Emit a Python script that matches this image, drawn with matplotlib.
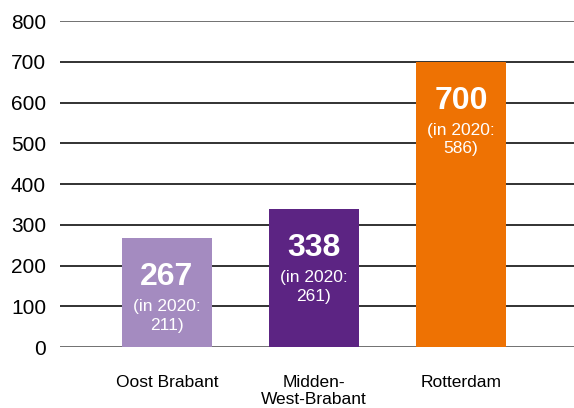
import matplotlib
matplotlib.use("Agg")
import matplotlib.pyplot as plt
from matplotlib import font_manager

names = {f.name for f in font_manager.fontManager.ttflist}
fam = "Liberation Sans Narrow" if "Liberation Sans Narrow" in names else "Liberation Sans"
plt.rcParams['font.family'] = [fam, 'DejaVu Sans']

categories = ["Oost Brabant", "Midden-\nWest-Brabant", "Rotterdam"]
values = [267, 338, 700]
values_2020 = [211, 261, 586]
colors = ["#a48bc0", "#5c2483", "#ee7203"]
yticks = [0, 100, 200, 300, 400, 500, 600, 700, 800]

fig = plt.figure(figsize=(5.74, 4.08), dpi=100)
ax = fig.add_axes([0.1045, 0.1495, 0.8955, 0.799])

x = list(range(len(categories)))
ax.bar(x, values, width=0.61, color=colors, zorder=3)

for yv in yticks:
    ax.axhline(yv, color="#666666" if yv in (0, 800) else "#222222", lw=1.3, zorder=1)

for xi, v, v0 in zip(x, values, values_2020):
    ax.annotate(str(v), (xi, v), xytext=(0, -28), textcoords="offset points",
                ha="center", va="center", color="white", fontsize=23, fontweight="bold", zorder=4)
    ax.annotate(f"(in 2020:\n{v0})", (xi, v), xytext=(0, -44), textcoords="offset points",
                ha="center", va="top", color="white", fontsize=12.5, linespacing=1.28, zorder=4)

ax.set_xlim(-0.728, 2.769)
ax.set_ylim(0, 800)
ax.set_yticks(yticks)
ax.set_yticklabels([str(t) for t in yticks], fontsize=15)
ax.set_xticks(x)
ax.set_xticklabels(categories, fontsize=12.5, linespacing=1.2, va="top")
ax.tick_params(axis="both", length=0, colors="black")
ax.tick_params(axis="x", pad=20)
ax.tick_params(axis="y", pad=10)
for s in ax.spines.values():
    s.set_visible(False)

fig.savefig("out.png", dpi=100)
